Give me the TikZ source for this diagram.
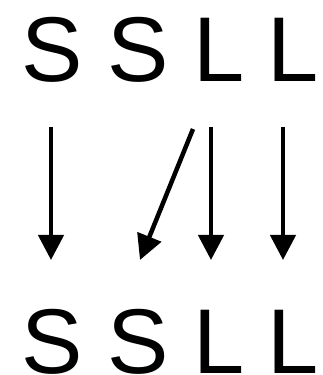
\documentclass[tikz,border=0pt]{standalone}
\usepackage{fontspec}
\setmainfont{Liberation Sans}
\usetikzlibrary{arrows.meta}
\begin{document}
\begin{tikzpicture}[x=1pt,y=1pt,
  letter/.style={inner sep=0pt,anchor=base,font=\fontsize{92}{92}\selectfont},
  arr/.style={line width=4.5pt,-{Triangle[width=25pt,length=25pt]}}]
\useasboundingbox (0,0) rectangle (322,375);
% top row
\node[letter] (t1) at (52,293) {S};
\node[letter] (t2) at (138,293) {S};
\node[letter] (t3) at (219,293) {L};
\node[letter] (t4) at (293.5,293) {L};
% bottom row
\node[letter] (b1) at (52,1.5) {S};
\node[letter] (b2) at (138,1.5) {S};
\node[letter] (b3) at (219,1.5) {L};
\node[letter] (b4) at (293.5,1.5) {L};
% arrow ends
\coordinate (s1) at (51,248);
\coordinate (e1) at (51,115);
\coordinate (s2) at (193,246);
\coordinate (e2) at (140,115);
\coordinate (s3) at (211,248);
\coordinate (e3) at (211,115);
\coordinate (s4) at (283,248);
\coordinate (e4) at (283,115);
\draw[arr] (s1) -- (e1);
\draw[arr] (s2) -- (e2);
\draw[arr] (s3) -- (e3);
\draw[arr] (s4) -- (e4);
\end{tikzpicture}
\end{document}
